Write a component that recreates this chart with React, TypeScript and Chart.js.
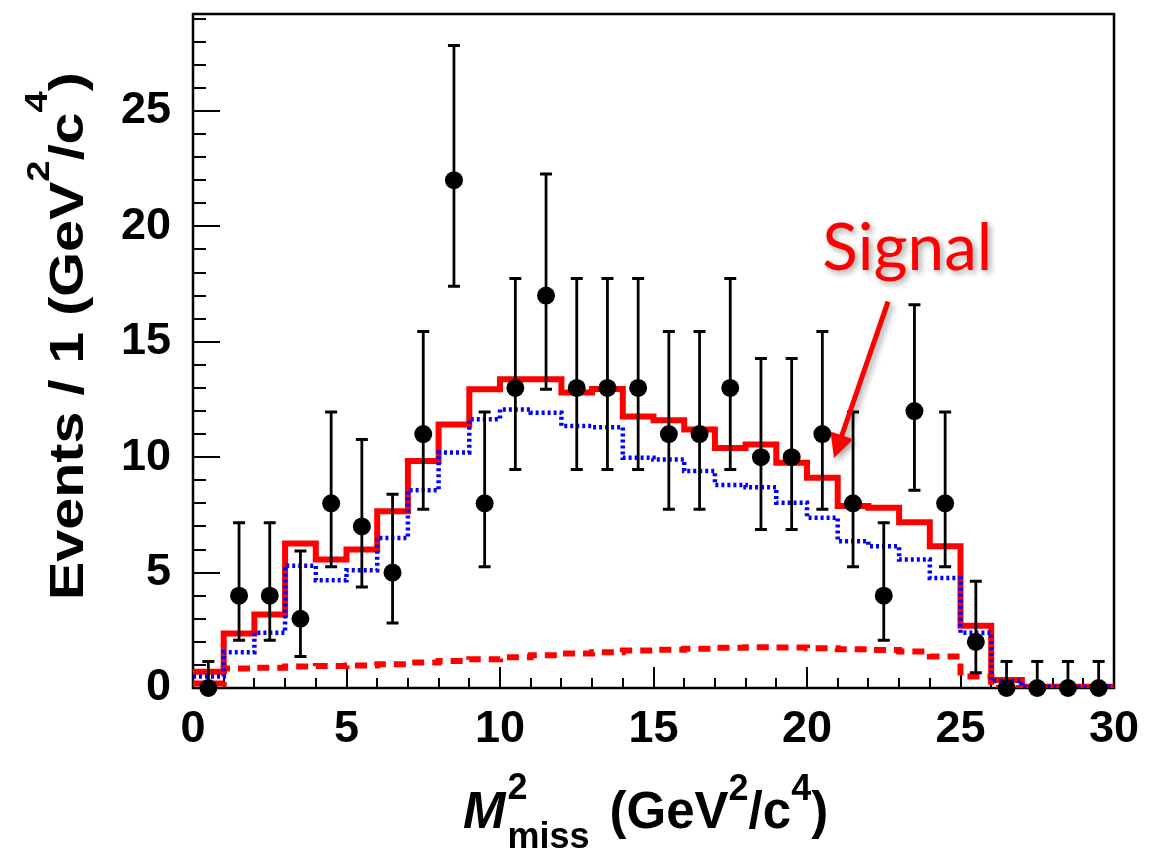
import React, { useEffect, useRef } from 'react';
import { Chart, registerables } from 'chart.js';

Chart.register(...registerables);

// ---- data ----
const binEdges = [0, 1, 2, 3, 4, 5, 6, 7, 8, 9, 10, 11, 12, 13, 14, 15, 16, 17, 18, 19, 20, 21, 22, 23, 24, 25, 26, 27, 28, 29, 30];
const binCenters = [0.5, 1.5, 2.5, 3.5, 4.5, 5.5, 6.5, 7.5, 8.5, 9.5, 10.5, 11.5, 12.5, 13.5, 14.5, 15.5, 16.5, 17.5, 18.5, 19.5, 20.5, 21.5, 22.5, 23.5, 24.5, 25.5, 26.5, 27.5, 28.5, 29.5];
const dataCounts = [0, 4, 4, 3, 8, 7, 5, 11, 22, 8, 13, 17, 13, 13, 13, 11, 11, 13, 10, 10, 11, 8, 4, 12, 8, 2, 0, 0, 0, 0];
const errUpper = [1.15, 7.16, 7.16, 5.93, 11.96, 10.77, 8.39, 15.45, 27.83, 11.96, 17.74, 22.27, 17.74, 17.74, 17.74, 15.45, 15.45, 17.74, 14.27, 14.27, 15.45, 11.96, 7.16, 16.6, 11.96, 4.63, 1.15, 1.15, 1.15, 1.15];
const errLower = [0, 2.07, 2.07, 1.37, 5.25, 4.38, 2.82, 7.74, 17.4, 5.25, 9.47, 12.94, 9.47, 9.47, 9.47, 7.74, 7.74, 9.47, 6.87, 6.87, 7.74, 5.25, 2.07, 8.57, 5.25, 0.66, 0, 0, 0, 0];
const totalFit = [0.7, 2.36, 3.18, 6.26, 5.57, 6.0, 7.66, 9.83, 11.42, 12.94, 13.38, 13.38, 12.8, 12.95, 11.76, 11.6, 11.2, 10.4, 10.55, 9.76, 9.11, 7.88, 7.81, 7.18, 6.14, 2.7, 0.35, 0.05, 0.05, 0.05];
const background = [0.5, 1.55, 2.39, 5.3, 4.67, 5.1, 6.5, 8.57, 10.2, 11.64, 12.07, 11.93, 11.35, 11.3, 9.98, 9.9, 9.4, 8.8, 8.7, 8.03, 7.38, 6.36, 6.14, 5.57, 4.77, 2.39, 0.3, 0.05, 0.05, 0.05];
const signal = [0.2, 0.85, 0.88, 0.93, 0.95, 0.98, 1.03, 1.1, 1.17, 1.25, 1.33, 1.42, 1.5, 1.55, 1.62, 1.66, 1.7, 1.74, 1.77, 1.76, 1.72, 1.68, 1.65, 1.58, 1.37, 0.5, 0, 0, 0, 0];
const xTickStep = 5;
const yTickStep = 5;
const xRange = [0, 30];
const yRange = [0, 29.2];
const signalLabel = 'Signal';
const signalLabelPos = [20.5, 18.1];
const signalArrowFrom = [22.64, 16.74];
const signalArrowTo = [20.88, 9.96];

const FONT = '"Liberation Sans", Arial, Helvetica, sans-serif';

function histPoints(values: number[]) {
  const pts = values.map((v, i) => ({ x: binEdges[i], y: v }));
  pts.push({ x: binEdges[binEdges.length - 1], y: values[values.length - 1] });
  return pts;
}

type Piece = { text: string; size: number; dy: number; italic?: boolean; sameX?: boolean; gapBefore?: number };

function drawRich(ctx: CanvasRenderingContext2D, pieces: Piece[], x: number, y: number, rot: number, targetLen?: number) {
  ctx.save();
  const fontOf = (p: Piece) => `${p.italic ? 'italic ' : ''}bold ${p.size}px ${FONT}`;
  let prevW = 0;
  const pos: number[] = [];
  let cursor = 0;
  pieces.forEach((p) => {
    ctx.font = fontOf(p);
    const w = ctx.measureText(p.text).width;
    if (p.sameX) {
      const start = cursor - prevW;
      pos.push(start);
      cursor = start + Math.max(prevW, w);
      prevW = Math.max(prevW, w);
    } else {
      cursor += p.gapBefore || 0;
      pos.push(cursor);
      cursor += w;
      prevW = w;
    }
  });
  const s = targetLen ? targetLen / cursor : 1;
  ctx.translate(x, y);
  ctx.rotate(rot);
  ctx.scale(s, 1);
  ctx.fillStyle = '#000';
  ctx.textBaseline = 'alphabetic';
  ctx.textAlign = 'left';
  pieces.forEach((p, i) => {
    ctx.font = fontOf(p);
    ctx.fillText(p.text, pos[i], p.dy);
  });
  ctx.restore();
}

const framePlugin = {
  id: 'frameTicks',
  beforeDatasetsDraw(chart: any) {
    const { ctx, chartArea: a, scales } = chart;
    const xs = scales.x;
    const ys = scales.y;
    ctx.save();
    ctx.strokeStyle = '#000';
    ctx.lineWidth = 2;
    ctx.lineCap = 'butt';
    ctx.beginPath();
    for (let v = yRange[0]; v <= yRange[1]; v += 1) {
      const py = Math.round(ys.getPixelForValue(v));
      const len = v % yTickStep === 0 ? 27 : 13;
      ctx.moveTo(a.left, py);
      ctx.lineTo(a.left + len, py);
    }
    for (let v = xRange[0]; v <= xRange[1]; v += 1) {
      const px = Math.round(xs.getPixelForValue(v));
      const len = v % xTickStep === 0 ? 21 : 10;
      ctx.moveTo(px, a.bottom);
      ctx.lineTo(px, a.bottom - len);
    }
    ctx.stroke();
    ctx.lineWidth = 2.5;
    ctx.strokeRect(a.left, a.top, a.right - a.left, a.bottom - a.top);
    ctx.restore();
  },
};

const errorBarPlugin = {
  id: 'errorBars',
  afterDatasetsDraw(chart: any) {
    const { ctx, scales } = chart;
    const xs = scales.x;
    const ys = scales.y;
    ctx.save();
    ctx.strokeStyle = '#000';
    ctx.lineCap = 'butt';
    binCenters.forEach((c, i) => {
      const px = xs.getPixelForValue(c);
      const pHi = ys.getPixelForValue(errUpper[i]);
      const pLo = ys.getPixelForValue(errLower[i]);
      ctx.lineWidth = 2.8;
      ctx.beginPath();
      ctx.moveTo(px, pHi);
      ctx.lineTo(px, pLo);
      ctx.stroke();
      ctx.lineWidth = 3;
      ctx.beginPath();
      ctx.moveTo(px - 6, pHi);
      ctx.lineTo(px + 6, pHi);
      if (errLower[i] > 0) {
        ctx.moveTo(px - 6, pLo);
        ctx.lineTo(px + 6, pLo);
      }
      ctx.stroke();
    });
    ctx.restore();
  },
};

const annotationPlugin = {
  id: 'annotations',
  afterDraw(chart: any) {
    const { ctx, chartArea: a, scales } = chart;
    const xs = scales.x;
    const ys = scales.y;

    drawRich(
      ctx,
      [
        { text: 'M', size: 51, dy: 0, italic: true },
        { text: '2', size: 36, dy: -29, gapBefore: 2 },
        { text: 'miss', size: 36, dy: 20, sameX: true },
        { text: '(GeV', size: 51, dy: 0, gapBefore: 20 },
        { text: '2', size: 36, dy: -28 },
        { text: '/c', size: 51, dy: 0 },
        { text: '4', size: 36, dy: -28 },
        { text: ')', size: 51, dy: 0 },
      ],
      a.left + 270,
      828,
      0
    );
    drawRich(
      ctx,
      [
        { text: 'Events / 1 (GeV', size: 48, dy: 0 },
        { text: '2', size: 32, dy: -34 },
        { text: '/c', size: 48, dy: 0 },
        { text: '4', size: 32, dy: -36 },
        { text: ')', size: 48, dy: 0 },
      ],
      83,
      600,
      -Math.PI / 2,
      528
    );

    ctx.save();
    ctx.shadowColor = 'rgba(0,0,0,0.35)';
    ctx.shadowBlur = 6;
    ctx.shadowOffsetX = 3;
    ctx.shadowOffsetY = 3;
    const baseSize = 64;
    ctx.font = `${baseSize}px Lato, "Open Sans", sans-serif`;
    const w = ctx.measureText(signalLabel).width;
    const size = (baseSize * 170) / w;
    ctx.font = `${size}px Lato, "Open Sans", sans-serif`;
    ctx.fillStyle = '#ff0000';
    ctx.textBaseline = 'alphabetic';
    ctx.fillText(signalLabel, xs.getPixelForValue(signalLabelPos[0]), ys.getPixelForValue(signalLabelPos[1]));

    const x0 = xs.getPixelForValue(signalArrowFrom[0]);
    const y0 = ys.getPixelForValue(signalArrowFrom[1]);
    const x1 = xs.getPixelForValue(signalArrowTo[0]);
    const y1 = ys.getPixelForValue(signalArrowTo[1]);
    const dx = x1 - x0;
    const dy = y1 - y0;
    const L = Math.hypot(dx, dy);
    const ux = dx / L;
    const uy = dy / L;
    const nx = -uy;
    const ny = ux;
    const head = 24;
    const half = 12;
    const bx = x1 - ux * head;
    const by = y1 - uy * head;
    ctx.strokeStyle = '#ff0000';
    ctx.lineWidth = 5;
    ctx.beginPath();
    ctx.moveTo(x0, y0);
    ctx.lineTo(bx + ux * 2, by + uy * 2);
    ctx.stroke();
    ctx.beginPath();
    ctx.moveTo(x1, y1);
    ctx.lineTo(bx + nx * half, by + ny * half);
    ctx.lineTo(bx - nx * half, by - ny * half);
    ctx.closePath();
    ctx.fill();
    ctx.restore();
  },
};

export default function App() {
  const ref = useRef<HTMLCanvasElement>(null);
  useEffect(() => {
    if (!ref.current) return;
    const chart = new Chart(ref.current, {
      type: 'scatter',
      data: {
        datasets: [
          {
            label: 'Data',
            data: binCenters.map((c, i) => ({ x: c, y: dataCounts[i] })),
            showLine: false,
            pointRadius: 9,
            pointBackgroundColor: '#000',
            pointBorderWidth: 0,
            clip: false,
            order: 0,
          } as any,
          {
            label: 'Background',
            data: histPoints(background),
            showLine: true,
            stepped: 'before',
            borderColor: '#0000ff',
            borderWidth: 4.5,
            borderDash: [3, 3],
            pointRadius: 0,
            fill: false,
            order: 1,
          } as any,
          {
            label: 'Signal',
            data: histPoints(signal),
            showLine: true,
            stepped: 'before',
            borderColor: '#ff0000',
            borderWidth: 6,
            borderDash: [12, 8],
            pointRadius: 0,
            fill: false,
            order: 2,
          } as any,
          {
            label: 'Total',
            data: histPoints(totalFit),
            showLine: true,
            stepped: 'before',
            borderColor: '#ff0000',
            borderWidth: 6,
            pointRadius: 0,
            fill: false,
            order: 3,
          } as any,
        ],
      },
      options: {
        responsive: false,
        maintainAspectRatio: false,
        animation: false,
        devicePixelRatio: 1,
        layout: { padding: { left: 0, right: 51, top: 14, bottom: 0 } },
        plugins: { legend: { display: false }, tooltip: { enabled: false } },
        scales: {
          x: {
            type: 'linear',
            min: xRange[0],
            max: xRange[1],
            grid: { display: false, drawTicks: false },
            border: { display: false },
            ticks: {
              stepSize: xTickStep,
              autoSkip: false,
              maxRotation: 0,
              padding: 15,
              color: '#000',
              font: { family: FONT, weight: 'bold', size: 45 },
            },
            afterFit: (s: any) => {
              s.height = 162;
              s.paddingLeft = 0;
              s.paddingRight = 0;
            },
          },
          y: {
            type: 'linear',
            min: yRange[0],
            max: yRange[1],
            grid: { display: false, drawTicks: false },
            border: { display: false },
            ticks: {
              stepSize: yTickStep,
              includeBounds: false,
              padding: 22,
              color: '#000',
              font: { family: FONT, weight: 'bold', size: 45 },
            },
            afterFit: (s: any) => {
              s.width = 193;
              s.paddingTop = 0;
              s.paddingBottom = 0;
            },
          },
        },
      } as any,
      plugins: [framePlugin, errorBarPlugin, annotationPlugin],
    });
    return () => chart.destroy();
  }, []);
  return (
    <div style={{ position: 'absolute', left: 0, top: 0, width: 1165, height: 850, background: '#fff' }}>
      <canvas ref={ref} width={1165} height={850} style={{ display: 'block', width: 1165, height: 850 }} />
    </div>
  );
}
